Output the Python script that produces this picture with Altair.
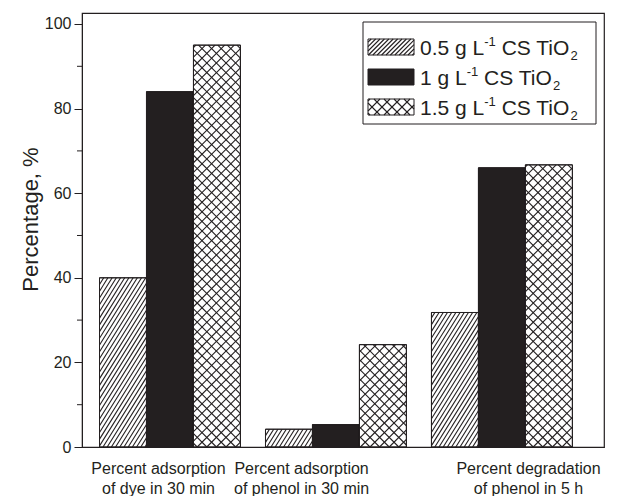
import math

import altair as alt
import pandas as pd

# ---- data -------------------------------------------------------------
label_lines = [
    ["Percent adsorption", "of dye in 30 min"],
    ["Percent adsorption", "of phenol in 30 min"],
    ["Percent degradation", "of phenol in 5 h"],
]
# where each two-line category label sits along the x axis
label_pos = [0.928, 1.79, 3.157]
series = ["0.5", "1", "1.5"]
vals_05 = [40.0, 4.2, 31.8]
vals_1 = [84.0, 5.3, 66.0]
vals_15 = [95.0, 24.2, 66.7]
y_ticks = [0, 20, 40, 60, 80, 100]
y_minor = [10, 30, 50, 70, 90]

INK = "#231f20"
FONT = "Liberation Sans"

# ---- geometry ---------------------------------------------------------
PLOT_W, PLOT_H = 522, 434
X_MIN, X_MAX = 0.47, 3.615
Y_MAX = 102.6
BAR_W = 0.283
PX_X = PLOT_W / (X_MAX - X_MIN)
PX_Y = PLOT_H / Y_MAX

# fill and hatch families (direction, angle, horizontal period in px)
patterns = {
    "0.5": ("white", [("/", 58, 4.2)]),
    "1": (INK, []),
    "1.5": ("white", [("/", 45, 9.6), ("\\", 45, 9.6)]),
}
legend_patterns = {
    "0.5": [("/", 45, 4.4)],
    "1": [],
    "1.5": [("/", 45, 10.0), ("\\", 45, 10.0)],
}


def hatch_segments(X0, X1, Y0, Y1, families):
    """Clip families of parallel lines (pixel space, y up) to a rectangle."""
    segs = []
    for kind, ang, period in families:
        k = math.tan(math.radians(ang))
        if kind == "/":
            c = math.floor((X0 - Y1 / k) / period) * period
            while c <= X1 - Y0 / k:
                xa = max(X0, c + Y0 / k)
                xb = min(X1, c + Y1 / k)
                if xb - xa > 0.05:
                    segs.append((xa, k * (xa - c), xb, k * (xb - c)))
                c += period
        else:
            c = math.floor((X0 + Y0 / k) / period) * period
            while c <= X1 + Y1 / k:
                xa = max(X0, c - Y1 / k)
                xb = min(X1, c - Y0 / k)
                if xb - xa > 0.05:
                    segs.append((xa, -k * (xa - c), xb, -k * (xb - c)))
                c += period
    return segs


def to_data(segs):
    return [{"xa": X_MIN + xa / PX_X, "ya": ya / PX_Y,
             "xb": X_MIN + xb / PX_X, "yb": yb / PX_Y} for xa, ya, xb, yb in segs]


# bars from the value lists
values = {"0.5": vals_05, "1": vals_1, "1.5": vals_15}
bar_rows, hatch_rows = [], []
for s_i, s in enumerate(series):
    fill, fams = patterns[s]
    for g in range(len(label_lines)):
        v = values[s][g]
        x0 = (g + 1) - 1.5 * BAR_W + s_i * BAR_W
        x1 = x0 + BAR_W
        bar_rows.append({"x0": x0, "x1": x1, "y0": 0.0, "y1": v, "fill": fill})
        X0, X1 = (x0 - X_MIN) * PX_X, (x1 - X_MIN) * PX_X
        hatch_rows += to_data(hatch_segments(X0, X1, 0.0, v * PX_Y, fams))

# legend (pixel positions relative to the plot's top-left corner)
LEG_BOX = (281, 514, 9, 111)
SW_X0, SW_X1, SW_H = 286, 332, 16
ROW_Y = [34, 64, 94]
LEG_FS = 21
SMALL = LEG_FS * 0.62
leg_swatch, leg_hatch, leg_text = [], [], []

AW = {"0": 556, "1": 556, "2": 556, "5": 556, ".": 278, " ": 278, "g": 556,
      "L": 556, "C": 722, "S": 667, "T": 611, "i": 222, "O": 778, "-": 333}


def tw(txt, size):
    return sum(AW[ch] for ch in txt) * size / 1000.0


for r, s in enumerate(series):
    fill = patterns[s][0]
    yc = ROW_Y[r]
    top, bot = yc - SW_H / 2, yc + SW_H / 2
    leg_swatch.append({"x0": X_MIN + SW_X0 / PX_X, "x1": X_MIN + SW_X1 / PX_X,
                       "y0": (PLOT_H - bot) / PX_Y, "y1": (PLOT_H - top) / PX_Y,
                       "fill": fill})
    leg_hatch += to_data(hatch_segments(SW_X0, SW_X1, PLOT_H - bot, PLOT_H - top,
                                        legend_patterns[s]))
    base = yc + 0.36 * LEG_FS
    x = SW_X1 + 6
    main1 = f"{s} g L"
    leg_text.append({"t": main1, "x": x, "y": base, "fs": LEG_FS})
    x += tw(main1, LEG_FS)
    leg_text.append({"t": "-1", "x": x, "y": base - 0.42 * LEG_FS, "fs": SMALL})
    x += tw("-1", SMALL) + tw(" ", LEG_FS)
    main2 = "CS TiO"
    leg_text.append({"t": main2, "x": x, "y": base, "fs": LEG_FS})
    x += tw(main2, LEG_FS)
    leg_text.append({"t": "2", "x": x, "y": base + 0.28 * LEG_FS, "fs": SMALL})

bars = pd.DataFrame(bar_rows)
hatch = pd.DataFrame(hatch_rows)
swatches = pd.DataFrame(leg_swatch)
swatch_hatch = pd.DataFrame(leg_hatch)
texts = pd.DataFrame(leg_text)

# ---- encodings --------------------------------------------------------
cuts = [(label_pos[i] + label_pos[i + 1]) / 2 for i in range(len(label_pos) - 1)]
label_expr = ""
for i, lines in enumerate(label_lines[:-1]):
    label_expr += f"datum.value < {cuts[i]:.3f} ? {lines!r} : "
label_expr += repr(label_lines[-1])

x_scale = alt.Scale(domain=[X_MIN, X_MAX], nice=False, zero=False)
y_scale = alt.Scale(domain=[0, Y_MAX], nice=False)

x_axis = alt.Axis(values=label_pos, labelExpr=label_expr, ticks=False, grid=False,
                  title=None, labelFont=FONT, labelFontSize=16, labelColor=INK,
                  labelLineHeight=20, labelPadding=13, domainColor=INK,
                  labelBaseline="top")
y_axis = alt.Axis(values=y_ticks, grid=False, title="Percentage, %", tickSize=8,
                  tickColor=INK, domainColor=INK, labelFont=FONT, labelFontSize=16,
                  labelColor=INK, labelPadding=3, titleFont=FONT, titleFontSize=22,
                  titleFontWeight="normal", titleColor=INK, titleBaseline="middle",
                  titleX=-52, titleY=206)

bar_layer = alt.Chart(bars).mark_rect(stroke=INK, strokeWidth=1).encode(
    x=alt.X("x0:Q", scale=x_scale, axis=x_axis),
    x2="x1:Q",
    y=alt.Y("y0:Q", scale=y_scale, axis=y_axis),
    y2="y1:Q",
    fill=alt.Fill("fill:N", scale=None),
)

hatch_layer = alt.Chart(hatch).mark_rule(color=INK, strokeWidth=1.1).encode(
    x="xa:Q", x2="xb:Q", y="ya:Q", y2="yb:Q",
)

outline_layer = alt.Chart(bars).mark_rect(fillOpacity=0, stroke=INK, strokeWidth=1).encode(
    x="x0:Q", x2="x1:Q", y="y0:Q", y2="y1:Q",
)

minor_layer = alt.Chart(pd.DataFrame({"v": y_minor})).mark_rule(color=INK).encode(
    y="v:Q", x=alt.value(-5), x2=alt.value(0),
)

legend_box = alt.Chart(pd.DataFrame({"a": [0]})).mark_rect(
    fill="white", stroke=INK, strokeWidth=1
).encode(
    x=alt.value(LEG_BOX[0]), x2=alt.value(LEG_BOX[1]),
    y=alt.value(LEG_BOX[2]), y2=alt.value(LEG_BOX[3]),
)

swatch_layer = alt.Chart(swatches).mark_rect(strokeWidth=0).encode(
    x="x0:Q", x2="x1:Q", y="y0:Q", y2="y1:Q",
    fill=alt.Fill("fill:N", scale=None),
)
swatch_hatch_layer = alt.Chart(swatch_hatch).mark_rule(color=INK, strokeWidth=1.1).encode(
    x="xa:Q", x2="xb:Q", y="ya:Q", y2="yb:Q",
)
swatch_outline = alt.Chart(swatches).mark_rect(fillOpacity=0, stroke=INK, strokeWidth=1).encode(
    x="x0:Q", x2="x1:Q", y="y0:Q", y2="y1:Q",
)

text_layer = alt.Chart(texts).mark_text(
    font=FONT, color=INK, align="left", baseline="alphabetic"
).encode(
    x=alt.X("x:Q", scale=None), y=alt.Y("y:Q", scale=None),
    text="t:N", size=alt.Size("fs:Q", scale=None),
)

chart = alt.layer(
    bar_layer, hatch_layer, outline_layer, minor_layer,
    legend_box, swatch_layer, swatch_hatch_layer, swatch_outline, text_layer,
).properties(
    width=PLOT_W, height=PLOT_H,
    autosize=alt.AutoSizeParams(type="none"),
    padding={"left": 82, "top": 13, "right": 13, "bottom": 49},
).configure_view(stroke=INK, strokeWidth=1.2)

chart.save("out.html", embed_options={"renderer": "svg", "actions": False})
